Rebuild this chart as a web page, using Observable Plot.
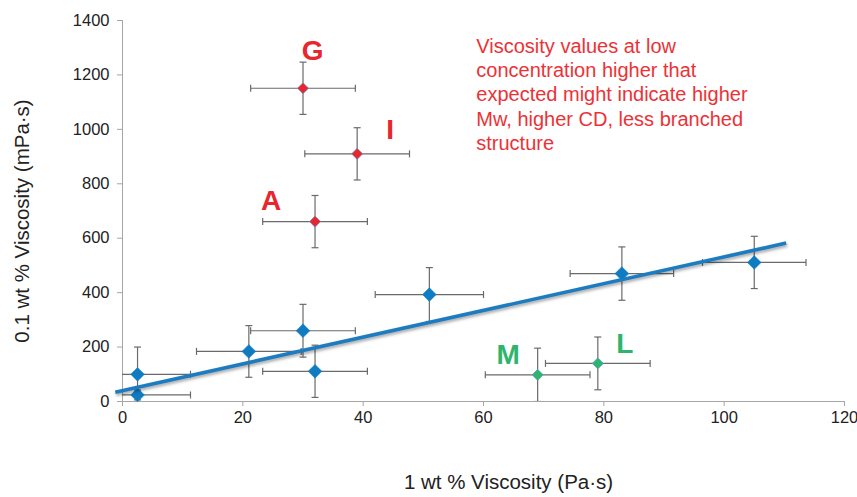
<!DOCTYPE html>
<html>
<head>
<meta charset="utf-8">
<script src="https://cdn.jsdelivr.net/npm/d3@7"></script>
<script src="https://cdn.jsdelivr.net/npm/@observablehq/plot@0.6"></script>
<style>
  html, body { margin: 0; padding: 0; background: #fff; }
  #chart svg { display: block; font-family: "Liberation Sans", Arial, sans-serif; }
</style>
</head>
<body>
<div id="chart"></div>
<script>
// ---- data ----
const pointX = [2.5, 2.5, 21, 30, 32, 51, 83, 105, 30, 39, 32, 69, 79];
const pointY = [100, 24, 184, 260, 111, 393, 470, 511, 1151, 910, 661, 98, 140];
const errX   = [8.8, 8.8, 8.7, 8.7, 8.7, 9, 8.6, 8.6, 8.7, 8.7, 8.7, 8.7, 8.7];
const errY   = [100, 18, 95, 97, 96, 99, 98, 96, 96, 96, 96, 98, 97];
const pointGroup = ["fit","fit","fit","fit","fit","fit","fit","fit","high","high","high","low","low"];

const sampleLabels = ["G", "I", "A", "M", "L"];
const sampleLabelX = [31.6, 44.5, 24.7, 64.1, 83.5];
const sampleLabelY = [1288, 997, 737, 169, 210];
const sampleLabelGroup = ["high", "high", "high", "low", "low"];

const trendX = [-1.2, 110.3];
const trendY = [34, 582];

const xTicks = [0, 20, 40, 60, 80, 100, 120];
const yTicks = [0, 200, 400, 600, 800, 1000, 1200, 1400];

const note = "Viscosity values at low\nconcentration higher that\nexpected might indicate higher\nMw, higher CD, less branched\nstructure";
const noteX = 58.8, noteY = 1346;

const xTitle = "1 wt % Viscosity (Pa·s)";
const yTitle = "0.1 wt % Viscosity (mPa·s)";

// ---- build tables ----
const points = pointX.map((x, i) => ({x, y: pointY[i], ex: errX[i], ey: errY[i], group: pointGroup[i]}));
const labelsData = sampleLabels.map((t, i) => ({t, x: sampleLabelX[i], y: sampleLabelY[i], group: sampleLabelGroup[i]}));
const trend = trendX.map((x, i) => ({x, y: trendY[i]}));

const BLUE = "#0f7cc2", RED = "#e8262d", GREEN = "#2fb46c", ERR = "#6a6a6a";
const colorOf = g => g === "high" ? RED : g === "low" ? GREEN : BLUE;

const capV = {draw(ctx, size) { const r = Math.sqrt(size / Math.PI); ctx.moveTo(0, -r); ctx.lineTo(0, r); }};
const capH = {draw(ctx, size) { const r = Math.sqrt(size / Math.PI); ctx.moveTo(-r, 0); ctx.lineTo(r, 0); }};

const chart = Plot.plot({
  width: 857,
  height: 497,
  marginLeft: 122,
  marginRight: 13,
  marginTop: 20,
  marginBottom: 96,
  style: {fontFamily: '"Liberation Sans", Arial, sans-serif', background: "#fff"},
  x: {domain: [0, 120], ticks: xTicks},
  y: {domain: [0, 1400], ticks: yTicks},
  marks: [
    Plot.axisX({ticks: xTicks, tickFormat: d => String(d), tickSize: 5, tickPadding: 5, fontSize: 16.5, stroke: "#a6a6a6", fill: "#222", label: null}),
    Plot.axisY({ticks: yTicks, tickFormat: d => String(d), tickSize: 5, tickPadding: 8, fontSize: 16.5, stroke: "#a6a6a6", fill: "#222", label: null}),
    Plot.ruleX([0], {stroke: "#a6a6a6"}),
    Plot.ruleY([0], {stroke: "#a6a6a6"}),
    // error bars
    Plot.link(points, {x1: d => d.x - d.ex, x2: d => d.x + d.ex, y1: "y", y2: "y", stroke: ERR, strokeWidth: 1.2, clip: true}),
    Plot.link(points, {x1: "x", x2: "x", y1: d => d.y - d.ey, y2: d => d.y + d.ey, stroke: ERR, strokeWidth: 1.2, clip: true}),
    Plot.dot(points, {x: d => d.x - d.ex, y: "y", symbol: capV, r: 3.5, fill: "none", stroke: ERR, strokeWidth: 1.2, clip: true}),
    Plot.dot(points, {x: d => d.x + d.ex, y: "y", symbol: capV, r: 3.5, fill: "none", stroke: ERR, strokeWidth: 1.2, clip: true}),
    Plot.dot(points, {x: "x", y: d => d.y - d.ey, symbol: capH, r: 3.5, fill: "none", stroke: ERR, strokeWidth: 1.2, clip: true}),
    Plot.dot(points, {x: "x", y: d => d.y + d.ey, symbol: capH, r: 3.5, fill: "none", stroke: ERR, strokeWidth: 1.2, clip: true}),
    // markers
    Plot.dot(points.filter(d => d.group === "fit"), {x: "x", y: "y", symbol: "diamond2", r: 6.2, fill: BLUE, stroke: BLUE, strokeWidth: 0.5}),
    Plot.dot(points.filter(d => d.group !== "fit"), {x: "x", y: "y", symbol: "diamond2", r: 5, fill: d => colorOf(d.group), stroke: "#5b9bd5", strokeWidth: 0.7}),
    // trend line
    Plot.line(trend, {x: "x", y: "y", stroke: "#1b7cc1", strokeWidth: 3.6, strokeLinecap: "butt"}),
    // sample labels
    Plot.text(labelsData, {x: "x", y: "y", text: "t", fill: d => colorOf(d.group), fontSize: 28, fontWeight: "bold"}),
    // note
    Plot.text([note], {x: noteX, y: noteY, text: d => d, textAnchor: "start", lineAnchor: "top", fontSize: 20, lineHeight: 1.22, fill: "#ec3237"}),
    // axis titles
    Plot.text([yTitle], {frameAnchor: "left", textAnchor: "middle", text: d => d, rotate: -90, dx: -100, dy: 10, fontSize: 20.5, fill: "#222"}),
    Plot.text([xTitle], {frameAnchor: "bottom", textAnchor: "middle", text: d => d, dx: 25, dy: 87, fontSize: 20.5, fill: "#222"})
  ]
});

// soft shadow under the trend line, like the original
d3.select(chart).selectAll('g[aria-label="line"] path')
  .style("filter", "drop-shadow(1px 2px 1.5px rgba(0,0,0,0.35))");

document.getElementById("chart").appendChild(chart);
</script>
</body>
</html>
